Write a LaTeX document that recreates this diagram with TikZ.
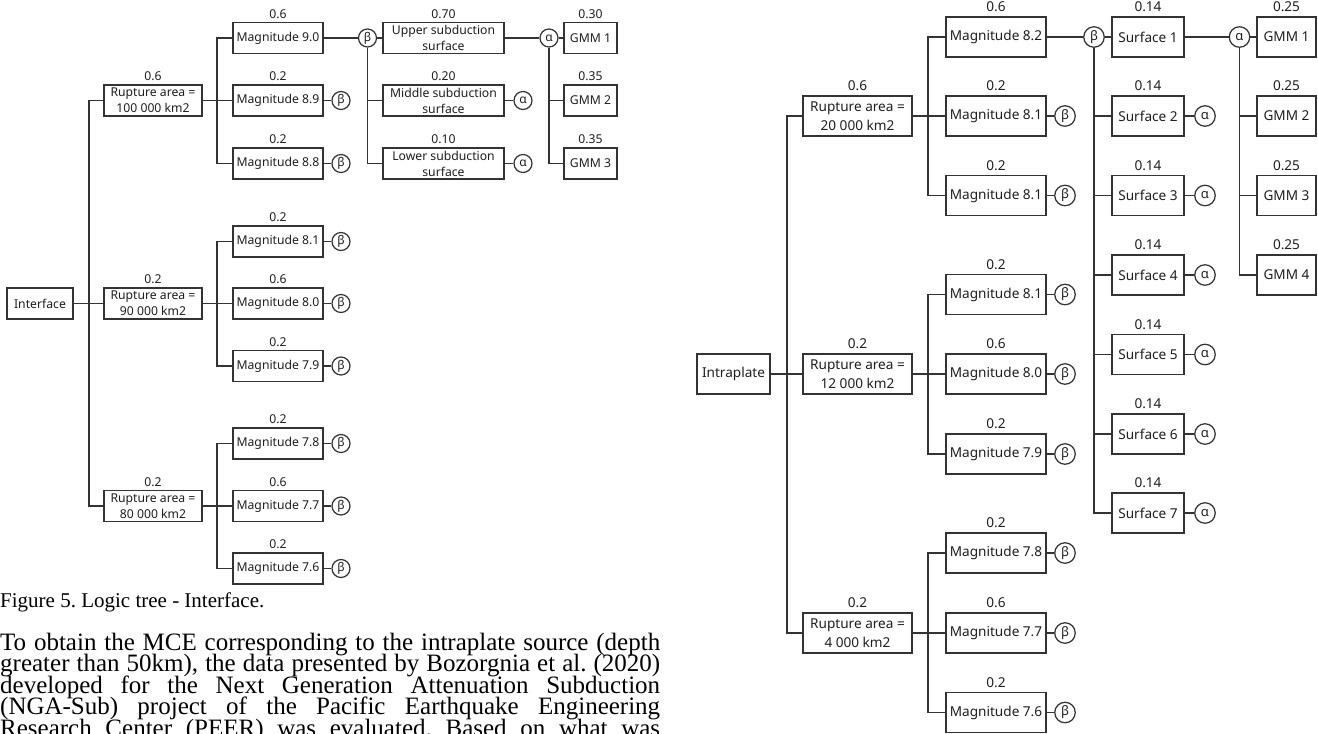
\documentclass[tikz,border=0pt]{standalone}
\usepackage{fontspec}
\newfontfamily\dfont{Noto Sans}
\newfontfamily\cfont{Liberation Serif}
\definecolor{lc}{HTML}{333333}
\definecolor{tc}{HTML}{1E1E1E}
\frenchspacing
\tikzset{
  conn/.style={draw=lc, line width=1.25pt},
  lbox/.style={draw=lc, line width=1.25pt, inner sep=0pt, minimum height=31pt, align=center, text=tc, font=\dfont\fontsize{12.2}{16}\selectfont},
  rbox/.style={draw=lc, line width=1.25pt, inner sep=0pt, minimum height=40pt, align=center, text=tc, font=\dfont\fontsize{13.6}{19}\selectfont},
  plabL/.style={anchor=south, inner sep=0pt, yshift=3.5pt, text=tc, font=\dfont\fontsize{12.2}{14}\selectfont},
  plabR/.style={anchor=south, inner sep=0pt, yshift=4pt, text=tc, font=\dfont\fontsize{13.6}{15}\selectfont},
  ccL/.style={circle, draw=lc, line width=1.25pt, inner sep=0pt, minimum size=18pt, text=tc, font=\dfont\fontsize{12}{12}\selectfont},
  ccR/.style={circle, draw=lc, line width=1.25pt, inner sep=0pt, minimum size=20.5pt, text=tc, font=\dfont\fontsize{13}{13}\selectfont},
  captxt/.style={anchor=base west, inner sep=0pt, text=black, font=\cfont\fontsize{21}{21}\selectfont},
  paratxt/.style={anchor=base west, inner sep=0pt, text=black, font=\cfont\fontsize{25}{25}\selectfont},
}
\newcommand\magL[4]{\node[lbox, minimum width=90pt] (#1) at (278,#2) {Magnitude #3};
  \node[plabL] (p#1) at (#1.north) {#4};}
\newcommand\magR[4]{\node[rbox, minimum width=100pt] (#1) at (996,#2) {Magnitude #3};
  \node[plabR] (p#1) at (#1.north) {#4};}
\begin{document}
\begin{tikzpicture}[x=1pt, y=-1pt]
\useasboundingbox (0,0) rectangle (1318,734);
% ================= LEFT: Interface =================
\node[lbox, minimum width=66pt] (iface) at (40,303.5) {Interface};
\node[lbox, minimum width=98pt] (lr1) at (153,100.5) {Rupture area =\\100 000 km2};
\node[plabL] (plr1) at (lr1.north) {0.6};
\node[lbox, minimum width=98pt] (lr2) at (153,303.5) {Rupture area =\\90 000 km2};
\node[plabL] (plr2) at (lr2.north) {0.2};
\node[lbox, minimum width=98pt] (lr3) at (153,506) {Rupture area =\\80 000 km2};
\node[plabL] (plr3) at (lr3.north) {0.2};
\coordinate (tkL) at (89,303.5);
\draw[conn] (iface.east) -- (lr2.west);
\draw[conn] (lr1.west) -| (tkL) |- (lr3.west);

\magL{lm11}{38}{9.0}{0.6}
\magL{lm12}{100.5}{8.9}{0.2}
\magL{lm13}{163.5}{8.8}{0.2}
\magL{lm21}{241.5}{8.1}{0.2}
\magL{lm22}{303.5}{8.0}{0.6}
\magL{lm23}{366}{7.9}{0.2}
\magL{lm31}{443.5}{7.8}{0.2}
\magL{lm32}{506}{7.7}{0.6}
\magL{lm33}{568.5}{7.6}{0.2}
\coordinate (bL1) at (217,100.5);
\coordinate (bL2) at (217,303.5);
\coordinate (bL3) at (217,506);
\draw[conn] (lr1.east) -- (lm12.west);
\draw[conn] (lm11.west) -| (bL1) |- (lm13.west);
\draw[conn] (lr2.east) -- (lm22.west);
\draw[conn] (lm21.west) -| (bL2) |- (lm23.west);
\draw[conn] (lr3.east) -- (lm32.west);
\draw[conn] (lm31.west) -| (bL3) |- (lm33.west);

\foreach \n/\y in {lm12/100.5, lm13/163.5, lm21/241.5, lm22/303.5, lm23/366, lm31/443.5, lm32/506, lm33/568.5}{
  \node[ccL] (b\n) at (341,\y) {β};
  \draw[conn] (\n.east) -- (b\n.west);
}
\node[ccL] (lbA) at (367.5,38) {β};
\draw[conn] (lm11.east) -- (lbA.west);

\node[lbox, minimum width=121pt] (ls1) at (443.5,38) {Upper subduction\\surface};
\node[plabL] (pls1) at (ls1.north) {0.70};
\node[lbox, minimum width=121pt] (ls2) at (443.5,100.5) {Middle subduction\\surface};
\node[plabL] (pls2) at (ls2.north) {0.20};
\node[lbox, minimum width=121pt] (ls3) at (443.5,163.5) {Lower subduction\\surface};
\node[plabL] (pls3) at (ls3.north) {0.10};
\draw[conn] (lbA.east) -- (ls1.west);
\draw[conn] (lbA.south) |- (ls2.west);
\draw[conn] (lbA.south) |- (ls3.west);

\node[ccL] (laA) at (549,38) {\bfseries α};
\node[ccL] (la2) at (523,100.5) {\bfseries α};
\node[ccL] (la3) at (523,163.5) {\bfseries α};
\draw[conn] (ls1.east) -- (laA.west);
\draw[conn] (ls2.east) -- (la2.west);
\draw[conn] (ls3.east) -- (la3.west);

\node[lbox, minimum width=53pt] (lg1) at (590.5,38) {GMM 1};
\node[plabL] (plg1) at (lg1.north) {0.30};
\node[lbox, minimum width=53pt] (lg2) at (590.5,100.5) {GMM 2};
\node[plabL] (plg2) at (lg2.north) {0.35};
\node[lbox, minimum width=53pt] (lg3) at (590.5,163.5) {GMM 3};
\node[plabL] (plg3) at (lg3.north) {0.35};
\draw[conn] (laA.east) -- (lg1.west);
\draw[conn] (laA.south) |- (lg2.west);
\draw[conn] (laA.south) |- (lg3.west);

% ================= caption and paragraph =================
\node[captxt] (cap) at (0,607) {Figure 5. Logic tree - Interface.};
\node[paratxt] (pl1) at (0,650) {\makebox[660pt][s]{To obtain the MCE corresponding to the intraplate source (depth}};
\node[paratxt] (pl2) at (0,671.5) {\makebox[660pt][s]{greater than 50km), the data presented by Bozorgnia et al. (2020)}};
\node[paratxt] (pl3) at (0,693) {\makebox[660pt][s]{developed for the Next Generation Attenuation Subduction}};
\node[paratxt] (pl4) at (0,714.5) {\makebox[660pt][s]{(NGA-Sub) project of the Pacific Earthquake Engineering}};
\node[paratxt] (pl5) at (0,736) {\makebox[660pt][s]{Research Center (PEER) was evaluated. Based on what was}};

% ================= RIGHT: Intraplate =================
\node[rbox, minimum width=73pt] (iplate) at (733.5,374) {Intraplate};
\node[rbox, minimum width=109pt] (rr1) at (857.5,116) {Rupture area =\\20 000 km2};
\node[plabR] (prr1) at (rr1.north) {0.6};
\node[rbox, minimum width=109pt] (rr2) at (857.5,374) {Rupture area =\\12 000 km2};
\node[plabR] (prr2) at (rr2.north) {0.2};
\node[rbox, minimum width=109pt] (rr3) at (857.5,633) {Rupture area =\\4 000 km2};
\node[plabR] (prr3) at (rr3.north) {0.2};
\coordinate (tkR) at (787,374);
\draw[conn] (iplate.east) -- (rr2.west);
\draw[conn] (rr1.west) -| (tkR) |- (rr3.west);

\magR{rm11}{37}{8.2}{0.6}
\magR{rm12}{116}{8.1}{0.2}
\magR{rm13}{195.5}{8.1}{0.2}
\magR{rm21}{294.5}{8.1}{0.2}
\magR{rm22}{374}{8.0}{0.6}
\magR{rm23}{454}{7.9}{0.2}
\magR{rm31}{553}{7.8}{0.2}
\magR{rm32}{633}{7.7}{0.6}
\magR{rm33}{712.5}{7.6}{0.2}
\coordinate (bR1) at (928,116);
\coordinate (bR2) at (928,374);
\coordinate (bR3) at (928,633);
\draw[conn] (rr1.east) -- (rm12.west);
\draw[conn] (rm11.west) -| (bR1) |- (rm13.west);
\draw[conn] (rr2.east) -- (rm22.west);
\draw[conn] (rm21.west) -| (bR2) |- (rm23.west);
\draw[conn] (rr3.east) -- (rm32.west);
\draw[conn] (rm31.west) -| (bR3) |- (rm33.west);

\foreach \n/\y in {rm12/116, rm13/195.5, rm21/294.5, rm22/374, rm23/454, rm31/553, rm32/633, rm33/712.5}{
  \node[ccR] (b\n) at (1065,\y) {β};
  \draw[conn] (\n.east) -- (b\n.west);
}
\node[ccR] (rbA) at (1094,37) {β};
\draw[conn] (rm11.east) -- (rbA.west);

\foreach \k/\y in {1/37, 2/116, 3/195.5, 4/275, 5/354.5, 6/434, 7/513}{
  \node[rbox, minimum width=72pt] (rs\k) at (1148,\y) {Surface \k};
  \node[plabR] (prs\k) at (rs\k.north) {0.14};
}
\draw[conn] (rbA.east) -- (rs1.west);
\foreach \k in {2,...,7}{
  \draw[conn] (rbA.south) |- (rs\k.west);
}
\node[ccR] (raA) at (1239.5,37) {\bfseries α};
\draw[conn] (rs1.east) -- (raA.west);
\foreach \k/\y in {2/116, 3/195.5, 4/275, 5/354.5, 6/434, 7/513}{
  \node[ccR] (ra\k) at (1205,\y) {\bfseries α};
  \draw[conn] (rs\k.east) -- (ra\k.west);
}
\foreach \k/\y in {1/37, 2/116, 3/195.5, 4/275}{
  \node[rbox, minimum width=59pt] (rg\k) at (1286.5,\y) {GMM \k};
  \node[plabR] (prg\k) at (rg\k.north) {0.25};
}
\draw[conn] (raA.east) -- (rg1.west);
\foreach \k in {2,3,4}{
  \draw[conn] (raA.south) |- (rg\k.west);
}
\end{tikzpicture}
\end{document}
